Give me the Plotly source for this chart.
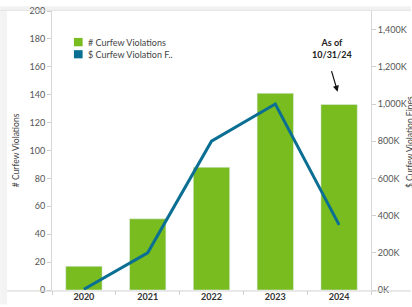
import plotly.graph_objects as go

years = ["2020", "2021", "2022", "2023", "2024"]
violations = [17, 51, 88, 141, 133]
fines = [4000, 200000, 800000, 1000000, 350000]
left_ticks = [0, 20, 40, 60, 80, 100, 120, 140, 160, 180, 200]
right_ticks = [0, 200000, 400000, 600000, 800000, 1000000, 1200000, 1400000]
right_labels = ["0K", "200K", "400K", "600K", "800K", "1,000K", "1,200K", "1,400K"]

W, H = 412, 307
L, R, T, B = 52, 40, 5, 15
PW, PH = W - L - R, H - T - B


def px(x):
    return (x - L) / PW


def py(y):
    return (H - B - y) / PH


GREEN = "#78BC1F"
BLUE = "#0A6F93"
FONT = "Lato, Open Sans, sans-serif"

fig = go.Figure()
fig.add_trace(go.Bar(x=years, y=violations, marker_color=GREEN, name="# Curfew Violations",
                     showlegend=False, yaxis="y"))
fig.add_trace(go.Scatter(x=years, y=fines, mode="lines", line=dict(color=BLUE, width=3),
                         name="$ Curfew Violation Fines", showlegend=False, yaxis="y2"))

fig.update_layout(
    width=W, height=H,
    margin=dict(l=L, r=R, t=T, b=B),
    paper_bgcolor="white", plot_bgcolor="white",
    bargap=0.43,
    font=dict(family=FONT, size=9, color="#555"),
    xaxis=dict(type="category", range=[-0.5, 4.5], tickson="boundaries", ticks="outside",
               ticklen=4, tickcolor="#cfcfcf", showgrid=False, showline=False,
               ticklabeloverflow="allow",
               tickfont=dict(family=FONT, size=9, color="#333", weight="bold")),
    yaxis=dict(range=[0, 200], tickvals=left_ticks, ticks="outside", ticklen=4,
               tickcolor="#cfcfcf", showgrid=False, zeroline=False, showline=True,
               ticklabeloverflow="allow",
               linecolor="#d6d6d6", linewidth=1, tickfont=dict(size=9, color="#555")),
    yaxis2=dict(range=[0, 1500000], tickvals=right_ticks, ticktext=right_labels,
                overlaying="y", side="right", ticks="outside", ticklen=4,
                ticklabeloverflow="allow",
                tickcolor="#cfcfcf", showgrid=False, zeroline=False, showline=True,
                linecolor="#d6d6d6", linewidth=1, tickfont=dict(size=9, color="#555")),
)

shapes = [
    # top gray band
    dict(type="rect", xref="paper", yref="paper", x0=px(0), x1=px(W), y0=py(4.3), y1=py(0),
         fillcolor="#f2f2f2", line=dict(width=0), layer="below"),
    dict(type="line", xref="paper", yref="paper", x0=px(0), x1=px(W), y0=py(4.3), y1=py(4.3),
         line=dict(color="#e2e2e2", width=1)),
    # left gray strip
    dict(type="rect", xref="paper", yref="paper", x0=px(0), x1=px(7), y0=py(H), y1=py(4.3),
         fillcolor="#f3f3f3", line=dict(width=0), layer="below"),
    # bottom axis line across
    dict(type="line", xref="paper", yref="paper", x0=px(7), x1=px(W), y0=py(293), y1=py(293),
         line=dict(color="#d2d2d2", width=1)),
    # legend squares
    dict(type="rect", xref="paper", yref="paper", x0=px(74), x1=px(82.7), y0=py(41.3), y1=py(32.7),
         fillcolor=GREEN, line=dict(width=0)),
    dict(type="rect", xref="paper", yref="paper", x0=px(74), x1=px(82.7), y0=py(53.7), y1=py(45.3),
         fillcolor=BLUE, line=dict(width=0)),
]
fig.update_layout(shapes=shapes)

ann = [
    dict(text="# Curfew Violations", x=px(86), y=py(37), xanchor="left", yanchor="middle",
         font=dict(size=9, color="#444")),
    dict(text="$ Curfew Violation F..", x=px(86), y=py(49.5), xanchor="left", yanchor="middle",
         font=dict(size=9, color="#444")),
    dict(text="# Curfew Violations", x=px(16), y=py(148), textangle=-90, xanchor="center",
         yanchor="middle", font=dict(size=8.5, color="#444")),
    dict(text="$ Curfew Violation Fines", x=px(411), y=py(140), textangle=-90, xanchor="center",
         yanchor="middle", font=dict(size=8.5, color="#444")),
    dict(text="<b>As of</b><br><b>10/31/24</b>", x=px(332.7), y=py(43.5), xanchor="center",
         yanchor="middle", font=dict(size=9, color="#222")),
    dict(text="", x=px(338.5), y=py(88), ax=-6.5, ay=-22, showarrow=True, arrowhead=2,
         arrowsize=1, arrowwidth=1.2, arrowcolor="#111"),
]
for a in ann:
    a.setdefault("xref", "paper")
    a.setdefault("yref", "paper")
    a.setdefault("showarrow", False)
fig.update_layout(annotations=ann)

fig.write_html("out.html", config={"displayModeBar": False},
               post_script="document.body.style.margin='0';document.body.style.overflow='hidden';")
